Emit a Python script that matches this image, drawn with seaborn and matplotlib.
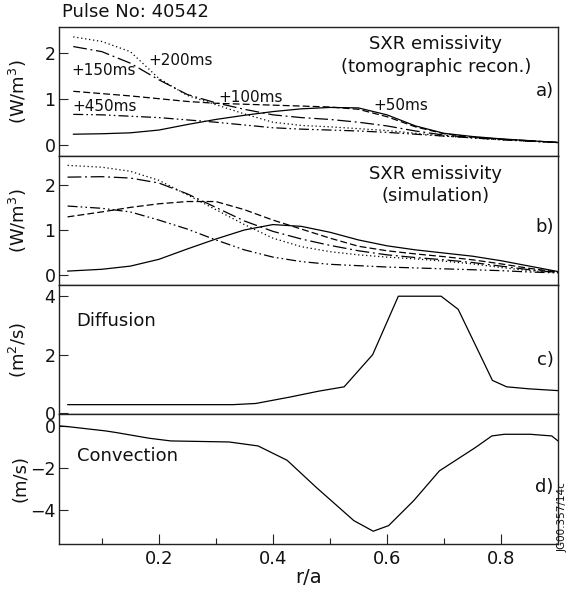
import matplotlib
matplotlib.use("Agg")
import matplotlib.pyplot as plt
import seaborn as sns
from matplotlib.ticker import FixedLocator, NullLocator

# ---------------- data ----------------
# SXR emissivity, tomographic reconstruction (W/m^3) vs r/a
r_tomo = [0.05, 0.10, 0.15, 0.20, 0.25, 0.30, 0.35, 0.40, 0.45, 0.50,
          0.55, 0.60, 0.65, 0.70, 0.75, 0.80, 0.85, 0.90]
tomo_50ms = [0.24, 0.25, 0.27, 0.33, 0.45, 0.56, 0.65, 0.73, 0.79, 0.82,
             0.81, 0.66, 0.42, 0.26, 0.19, 0.14, 0.10, 0.06]
tomo_100ms = [1.17, 1.12, 1.07, 1.01, 0.95, 0.91, 0.89, 0.87, 0.85, 0.83,
              0.78, 0.62, 0.40, 0.25, 0.18, 0.13, 0.10, 0.06]
tomo_150ms = [2.14, 2.03, 1.78, 1.42, 1.10, 0.92, 0.78, 0.66, 0.60, 0.56,
              0.50, 0.42, 0.31, 0.22, 0.17, 0.13, 0.09, 0.06]
tomo_200ms = [2.35, 2.25, 2.03, 1.45, 1.08, 0.88, 0.68, 0.50, 0.43, 0.40,
              0.36, 0.32, 0.26, 0.20, 0.16, 0.12, 0.09, 0.06]
tomo_450ms = [0.67, 0.66, 0.63, 0.60, 0.55, 0.50, 0.44, 0.38, 0.35, 0.33,
              0.31, 0.28, 0.24, 0.20, 0.16, 0.12, 0.09, 0.06]

# SXR emissivity, transport simulation (W/m^3) vs r/a
r_sim = [0.04, 0.10, 0.15, 0.20, 0.25, 0.30, 0.35, 0.40, 0.45, 0.50,
         0.55, 0.60, 0.65, 0.70, 0.75, 0.80, 0.85, 0.90]
sim_50ms = [0.09, 0.13, 0.20, 0.35, 0.58, 0.80, 1.00, 1.12, 1.08, 0.95,
            0.78, 0.65, 0.56, 0.49, 0.42, 0.32, 0.20, 0.08]
sim_100ms = [1.29, 1.40, 1.50, 1.58, 1.63, 1.63, 1.45, 1.22, 1.02, 0.82,
             0.64, 0.54, 0.47, 0.41, 0.34, 0.25, 0.15, 0.07]
sim_150ms = [2.17, 2.18, 2.15, 2.04, 1.80, 1.50, 1.20, 0.97, 0.80, 0.66,
             0.54, 0.45, 0.39, 0.34, 0.28, 0.20, 0.12, 0.06]
sim_200ms = [2.43, 2.39, 2.30, 2.10, 1.78, 1.45, 1.12, 0.82, 0.63, 0.52,
             0.45, 0.40, 0.36, 0.31, 0.25, 0.17, 0.10, 0.06]
sim_450ms = [1.53, 1.48, 1.40, 1.22, 1.02, 0.78, 0.56, 0.40, 0.30, 0.24,
             0.21, 0.18, 0.16, 0.14, 0.12, 0.10, 0.07, 0.05]

# transport coefficients
r_diff = [0.04, 0.33, 0.37, 0.43, 0.48, 0.525, 0.575, 0.62, 0.695, 0.725,
          0.785, 0.81, 0.85, 0.90]
diffusion = [0.29, 0.29, 0.33, 0.55, 0.75, 0.90, 2.00, 4.00, 4.00, 3.55,
             1.12, 0.90, 0.83, 0.77]
r_conv = [0.027, 0.043, 0.107, 0.126, 0.183, 0.221, 0.323, 0.374, 0.425,
          0.476, 0.542, 0.576, 0.603, 0.647, 0.692, 0.755, 0.784, 0.806,
          0.851, 0.889, 0.90]
convection = [0.02, -0.02, -0.22, -0.30, -0.57, -0.70, -0.75, -0.94, -1.63,
              -2.93, -4.53, -5.04, -4.77, -3.57, -2.14, -1.02, -0.46, -0.38,
              -0.38, -0.46, -0.70]

time_labels = ["+50ms", "+100ms", "+150ms", "+200ms", "+450ms"]
x_ticks = [0.2, 0.4, 0.6, 0.8]
x_minor = [0.1, 0.3, 0.5, 0.7]

# ---------------- styling ----------------
sns.set_style("white")
plt.rcParams["font.family"] = ["DejaVu Sans"]
plt.rcParams["mathtext.default"] = "regular"
plt.rcParams["xtick.top"] = False
plt.rcParams["xtick.minor.visible"] = False

styles = {
    "+50ms": "-",
    "+100ms": (0, (5.5, 2.5)),
    "+150ms": (0, (11, 3, 1.5, 3)),
    "+200ms": (0, (1, 2.2)),
    "+450ms": (0, (8, 2.5, 1.3, 2.5, 1.3, 2.5)),
}
LW = 0.9
FS = 13
INK = "#111111"

W, H = 568, 594
fig = plt.figure(figsize=(W / 100, H / 100), dpi=100)
left = 59 / W
width = 499 / W
top_px = 26.7
ph = 129.2
axes = []
for k in range(4):
    bottom = 1 - (top_px + ph * (k + 1)) / H
    axes.append(fig.add_axes([left, bottom, width, ph / H]))
ax_a, ax_b, ax_c, ax_d = axes


def draw(ax, x, y, ls):
    sns.lineplot(x=x, y=y, ax=ax, color="black", linewidth=LW,
                 linestyle=ls, errorbar=None, sort=False)


for lab, y in zip(time_labels, [tomo_50ms, tomo_100ms, tomo_150ms,
                                tomo_200ms, tomo_450ms]):
    draw(ax_a, r_tomo, y, styles[lab])
for lab, y in zip(time_labels, [sim_50ms, sim_100ms, sim_150ms,
                                sim_200ms, sim_450ms]):
    draw(ax_b, r_sim, y, styles[lab])
draw(ax_c, r_diff, diffusion, "-")
draw(ax_d, r_conv, convection, "-")

# axis limits and ticks
ylims = [(-0.23, 2.57), (-0.22, 2.64), (-0.04, 4.38), (-5.63, 0.58)]
yticks = [[0, 1, 2], [0, 1, 2], [0, 2, 4], [-4, -2, 0]]
ylabels = ["(W/m$^3$)", "(W/m$^3$)", "(m$^2$/s)", "(m/s)"]
for ax, yl, yt, lab in zip(axes, ylims, yticks, ylabels):
    ax.set_xlim(0.025, 0.9)
    ax.set_ylim(*yl)
    ax.yaxis.set_major_locator(FixedLocator(yt))
    ax.yaxis.set_minor_locator(NullLocator())
    ax.tick_params(axis="y", direction="in", length=6.5, width=0.8,
                   labelsize=12.5, pad=2.5, left=True, right=False,
                   labelcolor=INK)
    ax.set_ylabel(lab, fontsize=FS, color=INK)
    ax.yaxis.set_label_coords(-0.06, 0.5)
    for s in ax.spines.values():
        s.set_color("#222222")
        s.set_linewidth(1.0)
    ax.set_xlabel("")
    if ax is not ax_d:
        ax.set_xticks([])
        ax.set_xticks([], minor=True)
        ax.tick_params(axis="x", which="both", bottom=False, top=False,
                       labelbottom=False, length=0)

ax_d.xaxis.set_major_locator(FixedLocator(x_ticks))
ax_d.xaxis.set_minor_locator(FixedLocator(x_minor))
ax_d.set_xticklabels([f"{v:.1f}" for v in x_ticks])
ax_d.tick_params(axis="x", which="major", direction="in", length=7.5,
                 width=0.8, labelsize=FS, pad=5, bottom=True, top=False,
                 labelcolor=INK, color="#222222")
ax_d.tick_params(axis="x", which="minor", direction="in", length=4.5,
                 width=0.8, bottom=True, top=False, color="#222222")
ax_d.set_xlabel("r/a", fontsize=14, labelpad=0, color=INK)

# panel titles and tags
txt = dict(color=INK, fontsize=FS)
ax_a.text(0.755, 0.867, "SXR emissivity", transform=ax_a.transAxes,
          ha="center", va="center", **txt)
ax_a.text(0.755, 0.69, "(tomographic recon.)", transform=ax_a.transAxes,
          ha="center", va="center", **txt)
ax_b.text(0.755, 0.858, "SXR emissivity", transform=ax_b.transAxes,
          ha="center", va="center", **txt)
ax_b.text(0.755, 0.688, "(simulation)", transform=ax_b.transAxes,
          ha="center", va="center", **txt)
ax_a.text(0.991, 1.17, "a)", transform=ax_a.get_yaxis_transform(),
          ha="right", va="center", **txt)
ax_b.text(0.991, 1.07, "b)", transform=ax_b.get_yaxis_transform(),
          ha="right", va="center", **txt)
ax_c.text(0.991, 1.83, "c)", transform=ax_c.get_yaxis_transform(),
          ha="right", va="center", **txt)
ax_d.text(0.991, -2.93, "d)", transform=ax_d.get_yaxis_transform(),
          ha="right", va="center", **txt)
ax_c.text(0.056, 3.14, "Diffusion", ha="left", va="center", **txt)
ax_d.text(0.056, -1.42, "Convection", ha="left", va="center", **txt)

# time labels of the tomographic profiles
tl = dict(color=INK, fontsize=11, ha="left", va="center")
ax_a.text(0.181, 1.83, "+200ms", **tl)
ax_a.text(0.046, 1.61, "+150ms", **tl)
ax_a.text(0.304, 1.04, "+100ms", **tl)
ax_a.text(0.048, 0.84, "+450ms", **tl)
ax_a.text(0.576, 0.86, "+50ms", **tl)

fig.text(62 / W, 1 - 12 / H, "Pulse No: 40542", ha="left", va="center",
         fontsize=13, color=INK)
fig.text(0.991, 0.13, "JG00.357/14c", rotation=90, ha="center",
         va="center", fontsize=7.5, color=INK)

fig.savefig("out.png", dpi=100, facecolor="white")
